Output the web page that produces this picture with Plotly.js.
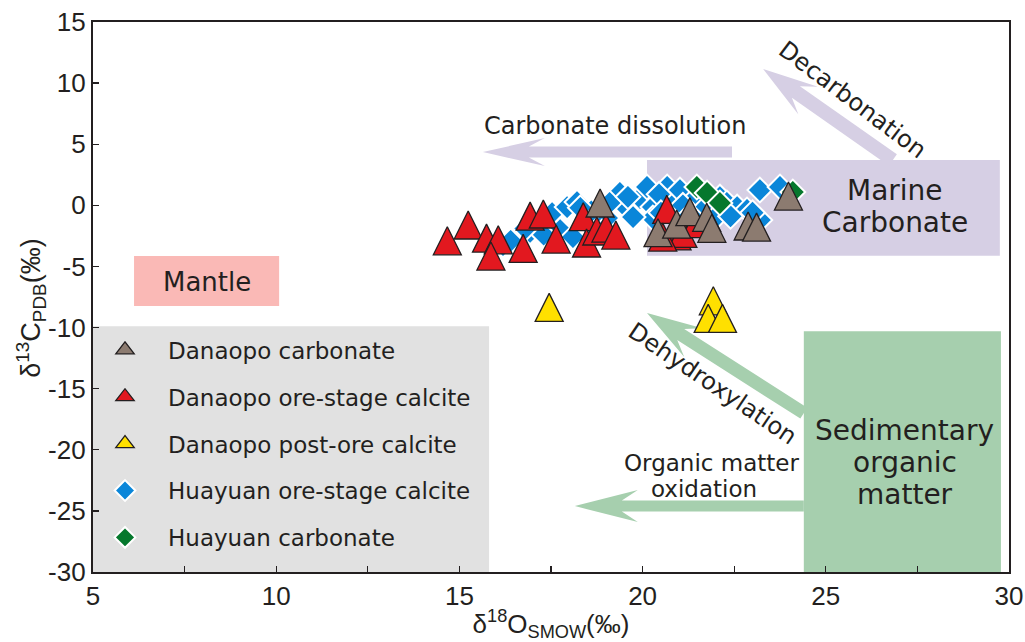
<!DOCTYPE html>
<html><head><meta charset="utf-8">
<script src="https://cdn.plot.ly/plotly-3.0.1.min.js"></script>
<style>html,body{margin:0;padding:0;background:#fff;}</style>
</head><body><div id="chart" style="width:1025px;height:642px;"></div>
<script>
// ---- data ----
const seriesNames = ['Danaopo carbonate','Danaopo ore-stage calcite','Danaopo post-ore calcite','Huayuan ore-stage calcite','Huayuan carbonate'];

const danaopoCarbonateX = [18.84, 20.42, 20.93, 21.29, 21.75, 21.89, 22.88, 23.11, 23.98];
const danaopoCarbonateY = [0.19, -2.24, -1.53, -0.52, -0.98, -1.88, -1.69, -1.78, 0.76];

const danaopoOreX = [14.67, 15.24, 15.74, 16.06, 15.86, 16.93, 17.29, 16.74, 17.64, 18.38, 18.47, 18.75, 19.00, 19.27, 20.66, 20.94, 21.10, 20.55, 21.45];
const danaopoOreY = [-2.90, -1.61, -2.68, -2.82, -4.15, -0.88, -0.71, -3.52, -2.76, -0.93, -3.08, -2.10, -1.86, -2.43, -0.33, -2.50, -2.30, -2.60, -1.50];

const danaopoPostX = [17.45, 21.93, 21.79, 22.18];
const danaopoPostY = [-8.35, -7.81, -9.25, -9.25];

const huayuanOreX = [16.19, 16.57, 16.93, 17.53, 17.94, 18.21, 17.75, 18.10, 18.48, 19.03, 19.38, 19.57, 19.93, 20.12, 20.28, 20.67, 20.83, 21.02, 21.48, 22.11, 22.30, 22.58, 22.85, 23.20, 23.20, 23.75, 21.65, 21.92, 20.28, 19.74, 18.89,
                     16.40, 17.10, 17.30, 18.60, 19.10, 19.60, 20.45, 20.50, 21.10, 21.30, 22.40, 23.00, 16.80, 18.30];
const huayuanOreY = [-3.25, -2.59, -2.18, -0.63, -0.14, 0.27, -2.02, -2.59, -1.45, -1.04, 1.01, -0.22, 0.60, 1.50, -0.14, 1.50, 0.43, 1.25, 0.68, 0.68, 0.19, -0.14, -0.38, -1.20, 1.25, 1.50, -0.38, -1.20, -1.04, -0.96, -2.18,
                     -2.90, -1.60, -2.40, -0.50, 0.20, 0.70, 0.90, -0.60, 0.00, -0.80, -0.90, -0.60, -1.90, -0.20];

const huayuanCarbX = [21.48, 21.76, 22.11, 24.10];
const huayuanCarbY = [1.50, 1.01, 0.19, 1.09];

const yTickVals = [-30, -25, -20, -15, -10, -5, 0, 5, 10, 15];
const yTickText = ['-30', '-25', '-20', '-15', '-10', '-5', '0', '5', '10', '15'];

const xTitle = 'δ<sup>18</sup>O<sub>SMOW</sub>(‰)';
const yTitle = 'δ<sup>13</sup>C<sub>PDB</sub>(‰)';

// ---- styling helpers ----
const INK = '#231f20';
const TXT = 'DejaVu Sans, Verdana, sans-serif';
const NUM = 'Liberation Sans, Arial, sans-serif';
const KX = 916 / 25, KY = 550 / 45; // px per unit

function arrowPath(x0, y0, x1, y1, sw, hw, hl, nl) {
  const X0 = x0 * KX, Y0 = y0 * KY, X1 = x1 * KX, Y1 = y1 * KY;
  const L = Math.hypot(X1 - X0, Y1 - Y0);
  const dx = (X1 - X0) / L, dy = (Y1 - Y0) / L, nx = -dy, ny = dx;
  const pts = [
    [X0 + nx * sw / 2, Y0 + ny * sw / 2],
    [X1 - dx * nl + nx * sw / 2, Y1 - dy * nl + ny * sw / 2],
    [X1 - dx * hl + nx * hw / 2, Y1 - dy * hl + ny * hw / 2],
    [X1, Y1],
    [X1 - dx * hl - nx * hw / 2, Y1 - dy * hl - ny * hw / 2],
    [X1 - dx * nl - nx * sw / 2, Y1 - dy * nl - ny * sw / 2],
    [X0 - nx * sw / 2, Y0 - ny * sw / 2]
  ];
  return 'M' + pts.map(p => (p[0] / KX).toFixed(4) + ',' + (p[1] / KY).toFixed(4)).join('L') + 'Z';
}

const COLORS = ['#8c7b70', '#e2181f', '#ffe000', '#0a86d9', '#06782d'];

function tri(i, x, y) {
  return {
    type: 'scatter', mode: 'markers', name: seriesNames[i], x: x, y: y, showlegend: false,
    marker: { symbol: 'arrow-down', angle: 180, standoff: 14, size: 28, color: COLORS[i], line: { color: INK, width: 1.3 } },
    hoverinfo: 'x+y'
  };
}
function dia(i, x, y) {
  return {
    type: 'scatter', mode: 'markers', name: seriesNames[i], x: x, y: y, showlegend: false,
    marker: { symbol: 'diamond', size: 19, color: COLORS[i], line: { color: '#ffffff', width: 2 } },
    hoverinfo: 'x+y'
  };
}
// legend entries (no points of their own)
function legendEntry(i, isTri) {
  return {
    type: 'scatter', mode: 'markers', name: seriesNames[i], x: [null], y: [null],
    legendrank: i + 1, legendgroup: 'g' + i, showlegend: true,
    marker: isTri
      ? { symbol: 'triangle-up', size: 16, color: COLORS[i], line: { color: INK, width: 1.3 } }
      : { symbol: 'diamond', size: 16, color: COLORS[i], line: { color: '#ffffff', width: 2 } }
  };
}

const traces = [
  dia(3, huayuanOreX, huayuanOreY),
  dia(4, huayuanCarbX, huayuanCarbY),
  tri(1, danaopoOreX, danaopoOreY),
  tri(2, danaopoPostX, danaopoPostY),
  tri(0, danaopoCarbonateX, danaopoCarbonateY),
  legendEntry(0, true), legendEntry(1, true), legendEntry(2, true), legendEntry(3, false), legendEntry(4, false)
];

const LAV = '#d6cfe4', GRN = '#a6cfae';
const shapes = [
  { type: 'rect', xref: 'x', yref: 'y', x0: 5, x1: 15.81, y0: -30, y1: -9.9, fillcolor: '#e1e1e1', line: { width: 0 }, layer: 'below' },
  { type: 'rect', xref: 'x', yref: 'y', x0: 6.12, x1: 10.08, y0: -8.24, y1: -4.15, fillcolor: '#fab9b6', line: { width: 0 }, layer: 'below' },
  { type: 'rect', xref: 'x', yref: 'y', x0: 20.12, x1: 29.75, y0: -4.12, y1: 3.71, fillcolor: LAV, line: { width: 0 }, layer: 'below' },
  { type: 'rect', xref: 'x', yref: 'y', x0: 24.4, x1: 29.78, y0: -30, y1: -10.3, fillcolor: GRN, line: { width: 0 }, layer: 'below' },
  { type: 'path', xref: 'x', yref: 'y', path: arrowPath(22.44, 4.36, 15.64, 4.36, 11, 28, 62, 46), fillcolor: LAV, line: { width: 0 }, layer: 'below' },
  { type: 'path', xref: 'x', yref: 'y', path: arrowPath(26.83, 3.71, 23.29, 11.15, 14, 34, 55, 40), fillcolor: LAV, line: { width: 0 }, layer: 'below' },
  { type: 'path', xref: 'x', yref: 'y', path: arrowPath(24.40, -17.0, 20.12, -8.81, 13, 34, 55, 40), fillcolor: GRN, line: { width: 0 }, layer: 'below' },
  { type: 'path', xref: 'x', yref: 'y', path: arrowPath(24.40, -24.61, 18.15, -24.61, 11, 32, 63, 47), fillcolor: GRN, line: { width: 0 }, layer: 'below' }
];

function ann(text, x, y, size, angle) {
  return { text: text, x: x, y: y, xref: 'x', yref: 'y', showarrow: false, textangle: angle || 0,
    font: { family: TXT, size: size, color: INK }, xanchor: 'center', yanchor: 'middle' };
}
const annotations = [
  ann('Mantle', 8.11, -6.27, 26),
  ann('Marine', 26.89, 1.25, 28),
  ann('Carbonate', 26.89, -1.37, 28),
  ann('Sedimentary', 27.16, -18.39, 28),
  ann('organic', 27.16, -21.0, 28),
  ann('matter', 27.16, -23.62, 28),
  ann('Carbonate dissolution', 19.25, 6.49, 24),
  ann('Decarbonation', 25.74, 8.62, 24, 37),
  ann('Dehydroxylation', 21.92, -14.62, 24, 34),
  ann('Organic matter', 21.87, -21.09, 23),
  ann('oxidation', 21.68, -23.21, 23),
  { text: yTitle, xref: 'paper', yref: 'paper', x: -0.068, y: 0.48, showarrow: false, textangle: -90,
    xanchor: 'center', yanchor: 'middle', font: { family: NUM, size: 27, color: INK } }
];

const layout = {
  width: 1025, height: 642,
  margin: { l: 93, r: 16, t: 22, b: 70, pad: 0 },
  paper_bgcolor: '#ffffff', plot_bgcolor: '#ffffff',
  showlegend: true,
  legend: {
    x: -0.012, y: 0.443, xanchor: 'left', yanchor: 'top',
    bgcolor: 'rgba(0,0,0,0)', borderwidth: 0,
    font: { family: TXT, size: 23, color: INK },
    itemwidth: 76, traceorder: 'grouped', tracegroupgap: 14
  },
  xaxis: {
    range: [5, 30], dtick: 5, tick0: 5,
    ticks: 'inside', ticklen: 6, tickwidth: 1.3, tickcolor: INK,
    minor: { dtick: 2.5, tick0: 5, ticks: 'inside', ticklen: 6, tickwidth: 1.3, tickcolor: INK, showgrid: false },
    showline: true, mirror: true, linewidth: 2.2, linecolor: INK,
    showgrid: false, zeroline: false,
    tickfont: { family: NUM, size: 26, color: INK },
    title: { text: xTitle, font: { family: NUM, size: 26, color: INK }, standoff: 4 }
  },
  yaxis: {
    range: [-30, 15], tickmode: 'array', tickvals: yTickVals, ticktext: yTickText,
    ticks: 'inside', ticklen: 6, tickwidth: 1.3, tickcolor: INK,
    showline: true, mirror: true, linewidth: 2.2, linecolor: INK,
    showgrid: false, zeroline: false,
    tickfont: { family: NUM, size: 26, color: INK }
  },
  shapes: shapes,
  annotations: annotations
};

Plotly.newPlot('chart', traces, layout, { displayModeBar: false, staticPlot: true });
</script>
</body></html>
